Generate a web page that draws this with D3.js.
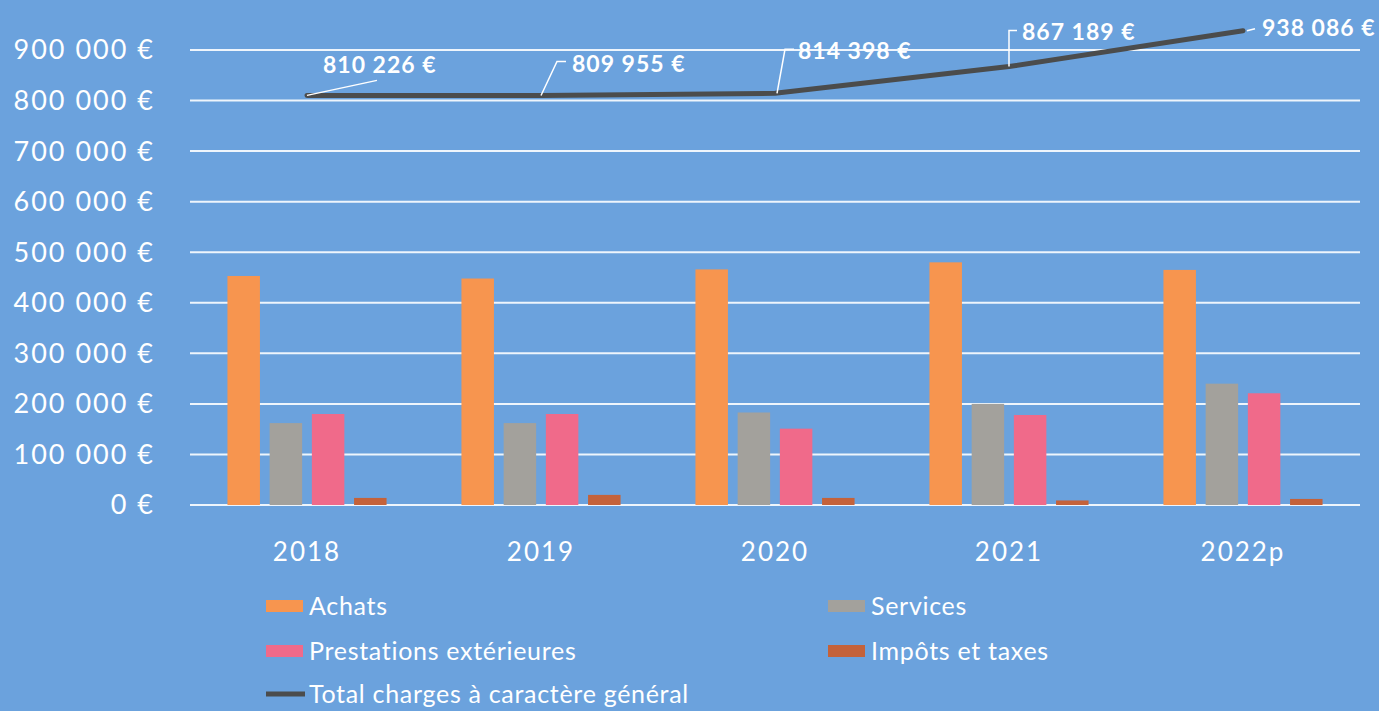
<html>
  <head>
    <style>
      body { margin: 0; background: #6ba2dd; overflow: hidden; }
      text { fill: #fff; }
    </style>
  </head>
  <body>
    <script src="https://d3js.org/d3.v7.min.js"></script>
    <script>
    var width = 1379, height = 711;

    // data
    var years = ["2018", "2019", "2020", "2021", "2022p"];
    var seriesNames = ["Achats", "Services", "Prestations extérieures", "Impôts et taxes"];
    var achats = [453000, 448000, 466000, 480000, 465000];
    var services = [162000, 162000, 183000, 200000, 240000];
    var prestations = [180000, 180000, 151000, 178000, 221000];
    var impots = [14000, 20000, 14000, 9000, 12000];
    var total = [810226, 809955, 814398, 867189, 938086];
    var totalLabels = ["810 226 €", "809 955 €", "814 398 €", "867 189 €", "938 086 €"];
    var yTicks = [0, 100000, 200000, 300000, 400000, 500000, 600000, 700000, 800000, 900000];
    var lineName = "Total charges à caractère général";

    var colors = ["#f7954f", "#a3a19c", "#f06a8a", "#c4623a"];
    var lineColor = "#4b4c4c";

    var svg = d3.select("body").append("svg")
        .attr("width", width).attr("height", height);

    var x = d3.scaleBand().domain(years).range([190, 1360]).paddingInner(0.32).paddingOuter(0.16);
    var x1 = d3.scaleBand().domain(seriesNames).range([0, x.bandwidth()]).paddingInner(0.23).paddingOuter(0);
    var y = d3.scaleLinear().domain([0, 900000]).range([505, 50]);

    // gridlines
    svg.append("g").selectAll("line").data(yTicks).enter().append("line")
        .attr("x1", 190).attr("x2", 1360)
        .attr("y1", function(d){ return y(d); }).attr("y2", function(d){ return y(d); })
        .attr("stroke", "#eef5fc").attr("stroke-width", 2);

    // y axis labels
    var fmt = function(d){ return d === 0 ? "0 €" : d3.format(",")(d).replace(/,/g, " ") + " €"; };
    svg.append("g").selectAll("text").data(yTicks).enter().append("text")
        .attr("x", 155).attr("y", function(d){ return y(d); })
        .attr("dy", "0.35em").attr("text-anchor", "end")
        .style("font-family", "Lato").style("font-size", "27px").style("letter-spacing", "2px")
        .text(fmt);

    // bars
    var values = [achats, services, prestations, impots];
    var barData = [];
    years.forEach(function(yr, i){
      seriesNames.forEach(function(s, j){ barData.push({year: yr, s: s, j: j, v: values[j][i]}); });
    });
    svg.append("g").selectAll("rect").data(barData).enter().append("rect")
        .attr("x", function(d){ return x(d.year) + x1(d.s); })
        .attr("y", function(d){ return y(d.v); })
        .attr("width", x1.bandwidth())
        .attr("height", function(d){ return y(0) - y(d.v); })
        .attr("fill", function(d){ return colors[d.j]; });

    // x labels
    svg.append("g").selectAll("text").data(years).enter().append("text")
        .attr("x", function(d){ return x(d) + x.bandwidth() / 2; })
        .attr("y", 561).attr("text-anchor", "middle")
        .style("font-family", "Lato").style("font-size", "26px").style("letter-spacing", "2px")
        .text(function(d){ return d; });

    // total line
    var cx = function(i){ return x(years[i]) + x.bandwidth() / 2; };
    var line = d3.line().x(function(d, i){ return cx(i); }).y(function(d){ return y(d); });
    svg.append("path").datum(total).attr("d", line)
        .attr("fill", "none").attr("stroke", lineColor).attr("stroke-width", 5)
        .attr("stroke-linecap", "round").attr("stroke-linejoin", "round");

    // data labels with leader lines (offsets from the point)
    var leaders = [
      [[0, 0], [70, -15]],
      [[0, 0], [16, -34], [25, -34]],
      [[2, 0], [10, -44], [19, -44]],
      [[0, 0], [0, -36], [8, -36]],
      [[4, 0], [12, -2]]
    ];
    var labelPos = [[16, -30], [31, -32], [23, -42], [13, -35], [19, -3]];
    total.forEach(function(v, i){
      var px = cx(i), py = y(v);
      svg.append("path")
          .attr("d", d3.line()(leaders[i].map(function(p){ return [px + p[0], py + p[1]]; })))
          .attr("fill", "none").attr("stroke", "#fff").attr("stroke-width", 1.5);
      svg.append("text")
          .attr("x", px + labelPos[i][0]).attr("y", py + labelPos[i][1])
          .attr("dy", "0.35em")
          .style("font-family", "Lato").style("font-weight", "bold").style("font-size", "23px")
          .style("letter-spacing", "1px")
          .text(totalLabels[i]);
    });

    // legend
    var legendPos = [[266, 606], [828, 606], [266, 651], [828, 651]];
    seriesNames.forEach(function(s, j){
      svg.append("rect").attr("x", legendPos[j][0]).attr("y", legendPos[j][1] - 6)
          .attr("width", 37).attr("height", 12).attr("fill", colors[j]);
      svg.append("text").attr("x", legendPos[j][0] + 43).attr("y", legendPos[j][1])
          .attr("dy", "0.35em")
          .style("font-family", "Lato").style("font-size", "25px").style("letter-spacing", "0.7px").text(s);
    });
    svg.append("line").attr("x1", 266).attr("x2", 305).attr("y1", 694).attr("y2", 694)
        .attr("stroke", lineColor).attr("stroke-width", 5);
    svg.append("text").attr("x", 309).attr("y", 694).attr("dy", "0.35em")
        .style("font-family", "Lato").style("font-size", "25px").style("letter-spacing", "0.7px").text(lineName);
    </script>
  </body>
</html>
